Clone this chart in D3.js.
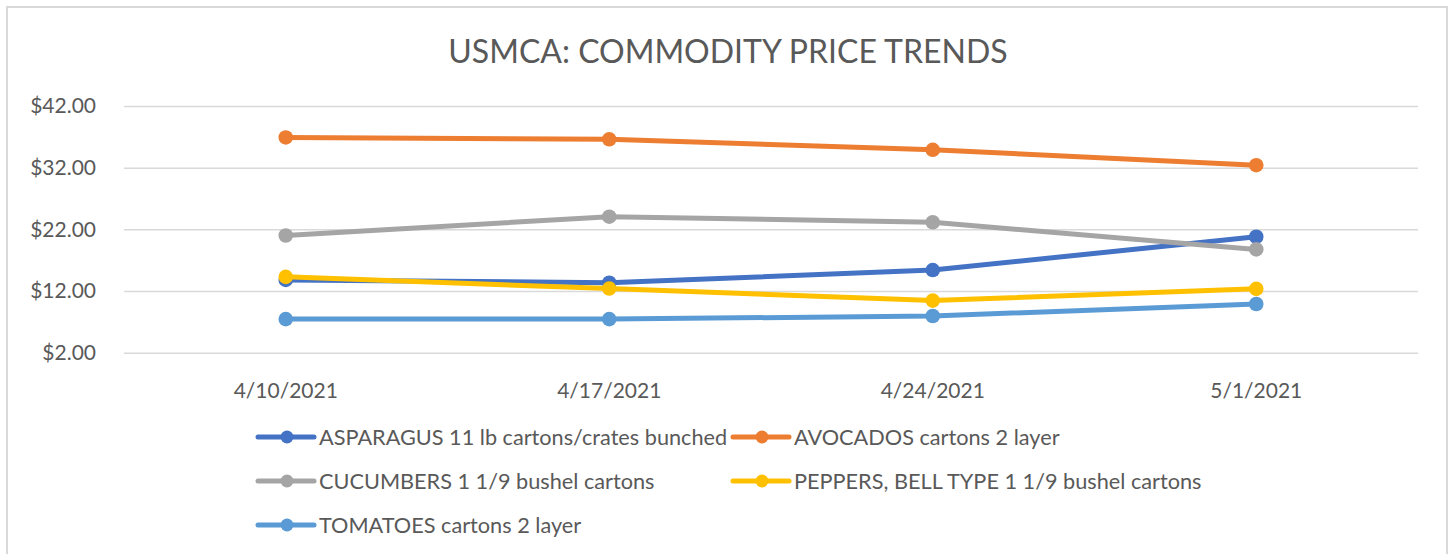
<!DOCTYPE html>
<html>
<head>
<meta charset="utf-8">
<script src="https://cdn.jsdelivr.net/npm/d3@7"></script>
<style>
  body { margin: 0; background: #fff; }
  svg { display: block; font-family: Lato, "Open Sans", sans-serif; }
</style>
</head>
<body>
<svg id="chart"></svg>
<script>
// values
const dates = ["4/10/2021", "4/17/2021", "4/24/2021", "5/1/2021"];
const asparagus = [13.8, 13.35, 15.4, 20.8];
const avocados = [36.9, 36.6, 34.9, 32.4];
const cucumbers = [21.0, 24.05, 23.15, 18.75];
const peppers = [14.3, 12.4, 10.45, 12.35];
const tomatoes = [7.45, 7.45, 7.95, 9.9];
const seriesNames = [
    "ASPARAGUS 11 lb cartons/crates bunched",
    "AVOCADOS cartons 2 layer",
    "CUCUMBERS 1 1/9 bushel cartons",
    "PEPPERS, BELL TYPE 1 1/9 bushel cartons",
    "TOMATOES cartons 2 layer"
];
const yTicks = [2, 12, 22, 32, 42];
const title = "USMCA: COMMODITY PRICE TRENDS";

const colors = ["#4472C4", "#ED7D31", "#A5A5A5", "#FFC000", "#5B9BD5"];
const series = [asparagus, avocados, cucumbers, peppers, tomatoes]
    .map((vals, i) => ({ name: seriesNames[i], color: colors[i], values: vals }));

const width = 1450, height = 554;
const textColor = "#595959";

const svg = d3.select("#chart")
    .attr("width", width)
    .attr("height", height);

// chart frame
svg.append("rect")
    .attr("x", 7).attr("y", 7)
    .attr("width", 1440).attr("height", 560)
    .attr("fill", "#fff")
    .attr("stroke", "#d9d9d9")
    .attr("stroke-width", 2);

svg.append("text")
    .attr("x", 728).attr("y", 63)
    .attr("text-anchor", "middle")
    .attr("fill", textColor)
    .attr("font-size", 32)
    .text(title);

const x = d3.scaleBand()
    .domain(dates)
    .range([124, 1418]);

const y = d3.scaleLinear()
    .domain([2, 42])
    .range([352.7, 106]);

// gridlines + y labels
const yAxis = d3.axisLeft(y)
    .tickValues(yTicks)
    .tickSize(-(1418 - 124))
    .tickPadding(28)
    .tickFormat(d => "$" + d3.format(".2f")(d));

const gy = svg.append("g")
    .attr("transform", "translate(124,0)")
    .call(yAxis);
gy.select(".domain").remove();
gy.selectAll(".tick line").attr("stroke", "#d9d9d9").attr("stroke-width", 1.5);
gy.selectAll(".tick text")
    .attr("fill", textColor)
    .attr("font-size", 21)
    .attr("font-family", "Lato, sans-serif");

// x labels
const xAxis = d3.axisBottom(x).tickSize(0).tickPadding(30);
const gx = svg.append("g")
    .attr("transform", "translate(0,352.7)")
    .call(xAxis);
gx.select(".domain").remove();
gx.selectAll(".tick text")
    .attr("fill", textColor)
    .attr("font-size", 21)
    .attr("font-family", "Lato, sans-serif");

const cx = d => x(d) + x.bandwidth() / 2;

const line = d3.line()
    .x((d, i) => cx(dates[i]))
    .y(d => y(d));

const g = svg.selectAll("g.series")
    .data(series)
    .join("g")
    .attr("class", "series");

g.append("path")
    .attr("d", d => line(d.values))
    .attr("fill", "none")
    .attr("stroke", d => d.color)
    .attr("stroke-width", 5)
    .attr("stroke-linejoin", "round");

g.selectAll("circle")
    .data(d => d.values.map(v => ({ v, color: d.color })))
    .join("circle")
    .attr("cx", (d, i) => cx(dates[i]))
    .attr("cy", d => y(d.v))
    .attr("r", 7.3)
    .attr("fill", d => d.color);

// legend
const legend = svg.append("g");
const item = legend.selectAll("g")
    .data(series)
    .join("g")
    .attr("transform", (d, i) => `translate(${258 + (i % 2) * 475},${437 + Math.floor(i / 2) * 44})`);

item.append("line")
    .attr("x1", 0).attr("x2", 56)
    .attr("stroke", d => d.color)
    .attr("stroke-width", 5)
    .attr("stroke-linecap", "round");

item.append("circle")
    .attr("cx", 29).attr("r", 6.5)
    .attr("fill", d => d.color);

item.append("text")
    .attr("x", 61)
    .attr("dy", "0.35em")
    .attr("fill", textColor)
    .attr("font-size", 21.7)
    .text(d => d.name);
</script>
</body>
</html>
